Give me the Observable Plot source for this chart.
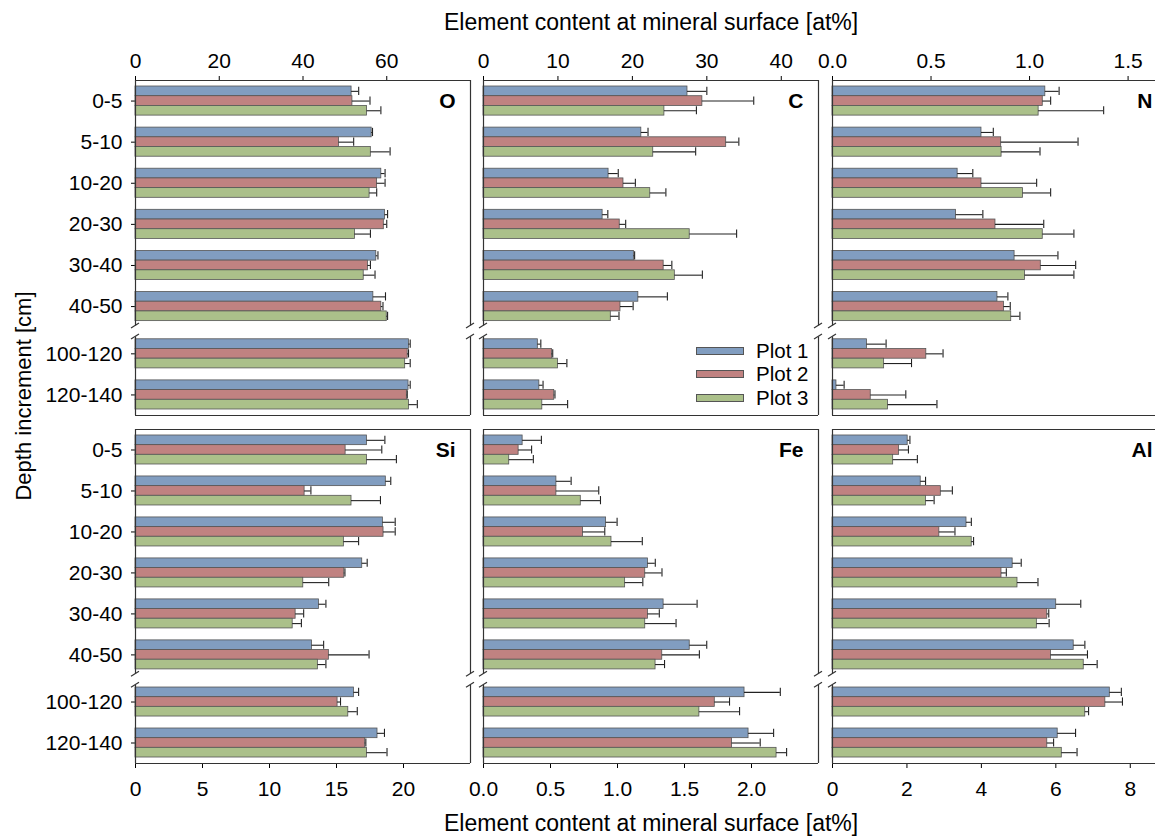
<!DOCTYPE html>
<html>
<head>
<meta charset="utf-8">
<script src="https://cdn.jsdelivr.net/npm/d3@7"></script>
<script src="https://cdn.jsdelivr.net/npm/@observablehq/plot@0.6"></script>
<style>
  html, body { margin: 0; padding: 0; background: #fff; overflow: hidden; }
  #chart { position: relative; width: 1155px; height: 837px; overflow: hidden;
           font-family: "Liberation Sans", Arial, sans-serif; color: #000; background: #fff; }
  #chart > svg { position: absolute; }
  .axis-title { position: absolute; font-size: 23px; white-space: nowrap; line-height: 1; }
  .axis-title.y { font-size: 22px; }
  .legend { position: absolute; font-size: 20.5px; line-height: 1; }
  .legend .row { position: absolute; white-space: nowrap; }
  .legend .sw { position: absolute; width: 46px; height: 6px; border: 1px solid #555; }
  .legend .lab { position: absolute; }
</style>
</head>
<body>
<div id="chart"></div>
<script>
// Depth increments (cm) and the three sampling plots
const depths = ["0-5", "5-10", "10-20", "20-30", "30-40", "40-50", "100-120", "120-140"];
const series = ["Plot 1", "Plot 2", "Plot 3"];
const seriesColors = ["#819dc0", "#c08281", "#abc08a"];

// Mean element content [at%] per plot (rows: Plot 1, 2, 3; columns: depths)
const O_mean = [
  [51.6, 56.4, 58.7, 59.6, 57.5, 56.8, 65.3, 65.2],
  [51.8, 48.6, 57.7, 59.3, 55.5, 58.7, 65.0, 64.8],
  [55.3, 56.2, 55.9, 52.4, 54.5, 60.0, 64.4, 65.3]
];
const O_err = [
  [1.7, 0.2, 0.9, 0.6, 0.4, 2.9, 0.3, 0.4],
  [4.2, 3.5, 1.9, 0.7, 0.6, 0.4, 0.2, 0.1],
  [3.3, 4.6, 1.7, 3.7, 2.7, 0.2, 1.2, 2.0]
];
const C_mean = [
  [27.4, 21.2, 16.8, 16.0, 20.2, 20.8, 7.3, 7.5],
  [29.4, 32.6, 18.8, 18.3, 24.2, 18.4, 9.2, 9.5],
  [24.3, 22.8, 22.4, 27.7, 25.7, 17.1, 10.0, 7.9]
];
const C_err = [
  [2.6, 0.9, 1.3, 0.7, 0.1, 3.9, 0.4, 0.5],
  [6.9, 1.7, 1.6, 0.8, 1.1, 1.7, 0.1, 0.1],
  [4.3, 5.7, 2.1, 6.3, 3.7, 1.1, 1.2, 3.4]
];
const N_mean = [
  [1.08, 0.756, 0.635, 0.627, 0.924, 0.837, 0.175, 0.02],
  [1.067, 0.856, 0.756, 0.827, 1.057, 0.87, 0.476, 0.194],
  [1.046, 0.858, 0.967, 1.067, 0.977, 0.907, 0.262, 0.282]
];
const N_err = [
  [0.07, 0.06, 0.077, 0.136, 0.22, 0.053, 0.097, 0.039],
  [0.04, 0.39, 0.28, 0.245, 0.177, 0.032, 0.085, 0.178],
  [0.33, 0.195, 0.14, 0.158, 0.248, 0.044, 0.139, 0.248]
];
const Si_mean = [
  [17.27, 18.68, 18.46, 16.92, 13.69, 13.17, 16.3, 18.06],
  [15.68, 12.62, 18.51, 15.58, 11.95, 14.43, 15.08, 17.14],
  [17.27, 16.12, 15.55, 12.52, 11.73, 13.61, 15.88, 17.27]
];
const Si_err = [
  [1.34, 0.37, 0.92, 0.37, 0.52, 0.87, 0.35, 0.52],
  [2.7, 0.47, 0.87, 0.05, 0.6, 3.0, 0.22, 0.05],
  [2.2, 2.16, 1.1, 1.9, 0.65, 0.6, 0.67, 1.5]
];
const Fe_mean = [
  [0.292, 0.544, 0.915, 1.227, 1.344, 1.539, 1.948, 1.978],
  [0.262, 0.544, 0.743, 1.207, 1.227, 1.334, 1.726, 1.855],
  [0.192, 0.726, 0.955, 1.057, 1.207, 1.284, 1.611, 2.187]
];
const Fe_err = [
  [0.14, 0.11, 0.082, 0.055, 0.25, 0.127, 0.267, 0.187],
  [0.097, 0.316, 0.162, 0.125, 0.085, 0.277, 0.11, 0.21],
  [0.18, 0.147, 0.23, 0.132, 0.23, 0.067, 0.3, 0.075]
];
const Al_mean = [
  [2.02, 2.37, 3.6, 4.84, 6.01, 6.48, 7.45, 6.05],
  [1.79, 2.91, 2.87, 4.54, 5.77, 5.87, 7.33, 5.77],
  [1.63, 2.51, 3.74, 4.97, 5.49, 6.75, 6.79, 6.16]
];
const Al_err = [
  [0.06, 0.13, 0.13, 0.23, 0.66, 0.3, 0.31, 0.48],
  [0.25, 0.31, 0.42, 0.13, 0.04, 0.98, 0.46, 0.17],
  [0.65, 0.22, 0.05, 0.55, 0.33, 0.36, 0.09, 0.41]
];

// Axis ticks per element
const O_ticks = [0, 20, 40, 60];
const C_ticks = [0, 10, 20, 30, 40];
const N_ticks = [0, 0.5, 1.0, 1.5];
const Si_ticks = [0, 5, 10, 15, 20];
const Fe_ticks = [0, 0.5, 1.0, 1.5, 2.0];
const Al_ticks = [0, 2, 4, 6, 8];

const panels = [
  {name: "O",  mean: O_mean,  err: O_err,  max: 80,  ticks: O_ticks,  fmt: d3.format("d"),   row: 0, col: 0},
  {name: "C",  mean: C_mean,  err: C_err,  max: 45,  ticks: C_ticks,  fmt: d3.format("d"),   row: 0, col: 1},
  {name: "N",  mean: N_mean,  err: N_err,  max: 1.7, ticks: N_ticks,  fmt: d3.format(".1f"), row: 0, col: 2},
  {name: "Si", mean: Si_mean, err: Si_err, max: 25,  ticks: Si_ticks, fmt: d3.format("d"),   row: 1, col: 0},
  {name: "Fe", mean: Fe_mean, err: Fe_err, max: 2.5, ticks: Fe_ticks, fmt: d3.format(".1f"), row: 1, col: 1},
  {name: "Al", mean: Al_mean, err: Al_err, max: 9,   ticks: Al_ticks, fmt: d3.format("d"),   row: 1, col: 2}
];

// Layout of the panel frames
const frameLeft = [135, 483, 832];
const frameTop = [80, 429];
const frameW = 335;
const frameH = [335, 334];

// Vertical positions of the depth groups: a broken axis between 40-50 and 100-120
const breakShift = 0.15;
const depthPos = depths.map((d, i) => i < 6 ? i : i + breakShift);
const yDomain = [-0.5, 7 + breakShift + 0.5];
const gapTop = 5.47, gapBottom = 5.74;
const barStep = 0.236, barHalf = 0.118, capHalf = 0.1;
const labelOf = new Map(depthPos.map((p, i) => [p, depths[i]]));

const chart = document.getElementById("chart");
const ink = "#333";

for (const p of panels) {
  const rows = [];
  p.mean.forEach((vals, s) => vals.forEach((v, i) => {
    const c = depthPos[i] + (s - 1) * barStep;
    rows.push({series: series[s], depth: depths[i], value: v, err: p.err[s][i], c});
  }));

  const mL = p.col === 0 ? 110 : 12;
  const mR = 12;
  const mT = p.row === 0 ? 45 : 12;
  const mB = p.row === 1 ? 50 : 12;
  const H = frameH[p.row];

  const brokenSide = (x) => [
    Plot.ruleX([x], {y1: yDomain[0], y2: gapTop, stroke: ink, strokeWidth: 1.2}),
    Plot.ruleX([x], {y1: gapBottom, y2: yDomain[1], stroke: ink, strokeWidth: 1.2})
  ];

  const plot = Plot.plot({
    width: frameW + mL + mR,
    height: H + mT + mB,
    marginLeft: mL, marginRight: mR, marginTop: mT, marginBottom: mB,
    style: {fontFamily: "Liberation Sans, Arial, sans-serif", fontSize: "21px", color: "#000", background: "transparent", overflow: "visible"},
    x: {
      domain: [0, p.max],
      axis: p.row === 0 ? "top" : "bottom",
      ticks: p.ticks, tickFormat: p.fmt,
      tickSize: 5, tickPadding: p.row === 0 ? 8 : 13,
      label: null
    },
    y: {
      type: "linear", domain: yDomain, reverse: true,
      axis: p.col === 0 ? "left" : null,
      ticks: depthPos, tickFormat: d => labelOf.get(d),
      tickSize: 4, tickPadding: 9,
      label: null
    },
    color: {domain: series, range: seriesColors},
    marks: [
      Plot.rect(rows, {
        x1: 0, x2: "value",
        y1: d => d.c - barHalf, y2: d => d.c + barHalf,
        fill: "series", stroke: "#555", strokeWidth: 0.8
      }),
      Plot.ruleY(rows, {y: "c", x1: "value", x2: d => d.value + d.err, stroke: "#222", strokeWidth: 1.1}),
      Plot.ruleX(rows, {x: d => d.value + d.err, y1: d => d.c - capHalf, y2: d => d.c + capHalf, stroke: "#222", strokeWidth: 1.1}),
      // frame with the axis break on both sides
      Plot.ruleY([yDomain[0], yDomain[1]], {x1: 0, x2: p.max, stroke: ink, strokeWidth: 1.2}),
      ...brokenSide(0),
      ...brokenSide(p.max),
      // break marks
      (index, scales) => {
        const g = d3.create("svg:g").attr("stroke", ink).attr("stroke-width", 1.2).attr("fill", "none");
        for (const xv of [0, p.max]) {
          const px = scales.x(xv);
          for (const yv of [gapTop, gapBottom]) {
            const py = scales.y(yv);
            g.append("line").attr("x1", px - 4).attr("y1", py + 2.5).attr("x2", px + 4).attr("y2", py - 2.5);
          }
        }
        return g.node();
      },
      // element label
      Plot.text([p.name], {
        x: p.max, y: depthPos[0], dx: -15, text: d => d,
        textAnchor: "end", fontWeight: "bold", fontSize: 21
      })
    ]
  });
  plot.style.left = (frameLeft[p.col] - mL) + "px";
  plot.style.top = (frameTop[p.row] - mT) + "px";
  chart.appendChild(plot);
}

// Axis titles
const xTitle = "Element content at mineral surface [at%]";
function addTitle(text, cx, cy, rotate) {
  const el = document.createElement("div");
  el.className = "axis-title" + (rotate ? " y" : "");
  el.textContent = text;
  chart.appendChild(el);
  const w = el.offsetWidth, h = el.offsetHeight;
  el.style.left = (cx - w / 2) + "px";
  el.style.top = (cy - h / 2) + "px";
  if (rotate) el.style.transform = "rotate(-90deg)";
}
addTitle(xTitle, 651, 22, false);
addTitle(xTitle, 651, 823, false);
addTitle("Depth increment [cm]", 23, 396, true);

// Legend inside the C panel
const legend = document.createElement("div");
legend.className = "legend";
legend.style.left = "696px";
legend.style.top = "340px";
series.forEach((s, i) => {
  const row = document.createElement("div");
  row.className = "row";
  row.style.top = (i * 23.3) + "px";
  const sw = document.createElement("span");
  sw.className = "sw";
  sw.style.background = seriesColors[i];
  sw.style.top = "7px";
  sw.style.left = "0px";
  const lab = document.createElement("span");
  lab.className = "lab";
  lab.style.left = "60px";
  lab.style.top = "1px";
  lab.textContent = s;
  row.appendChild(sw);
  row.appendChild(lab);
  legend.appendChild(row);
});
chart.appendChild(legend);
</script>
</body>
</html>
